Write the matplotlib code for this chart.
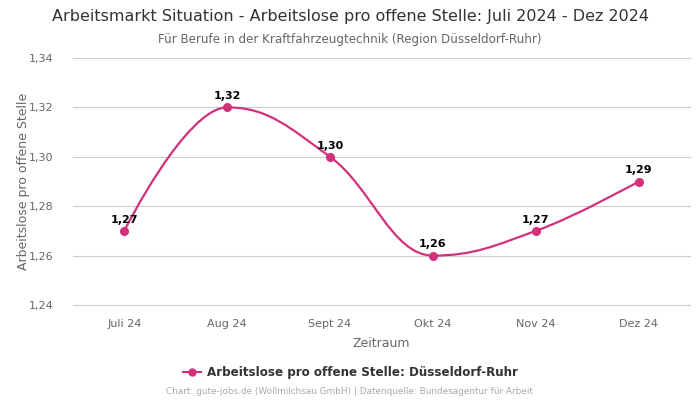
import numpy as np
import matplotlib
matplotlib.use("Agg")
import matplotlib.pyplot as plt
from matplotlib.path import Path
from matplotlib.patches import PathPatch

months = ["Juli 24", "Aug 24", "Sept 24", "Okt 24", "Nov 24", "Dez 24"]
values = [1.27, 1.32, 1.30, 1.26, 1.27, 1.29]
y_ticks = [1.24, 1.26, 1.28, 1.30, 1.32, 1.34]

COLOR = "#d3307b"
GRAY = "#666666"


def spline_path(xs, ys, smoothing=1.5):
    # Bezier path in the style of a Highcharts spline
    denom = smoothing + 1
    n = len(xs)
    verts = [(xs[0], ys[0])]
    codes = [Path.MOVETO]
    conts = []
    for i in range(n):
        if i == 0 or i == n - 1:
            conts.append(((xs[i], ys[i]), (xs[i], ys[i])))
            continue
        lx, ly = xs[i - 1], ys[i - 1]
        nx, ny = xs[i + 1], ys[i + 1]
        px, py = xs[i], ys[i]
        lcx = (smoothing * px + lx) / denom
        lcy = (smoothing * py + ly) / denom
        rcx = (smoothing * px + nx) / denom
        rcy = (smoothing * py + ny) / denom
        if rcx != lcx:
            corr = ((rcy - lcy) * (rcx - px)) / (rcx - lcx) + py - rcy
            lcy += corr
            rcy += corr
        if lcy > max(ly, py):
            lcy = max(ly, py)
            rcy = 2 * py - lcy
        elif lcy < min(ly, py):
            lcy = min(ly, py)
            rcy = 2 * py - lcy
        if rcy > max(ny, py):
            rcy = max(ny, py)
            lcy = 2 * py - rcy
        elif rcy < min(ny, py):
            rcy = min(ny, py)
            lcy = 2 * py - rcy
        conts.append(((lcx, lcy), (rcx, rcy)))
    for i in range(1, n):
        verts += [conts[i - 1][1], conts[i][0], (xs[i], ys[i])]
        codes += [Path.CURVE4] * 3
    return Path(verts, codes)


fig = plt.figure(figsize=(7, 4), dpi=100)
ax = fig.add_axes([0.104, 0.2375, 0.882, 0.6175])

x = np.arange(len(months))
ax.add_patch(PathPatch(spline_path(list(x), values), facecolor="none",
                       edgecolor=COLOR, linewidth=1.6, zorder=3))
ax.plot(x, values, "o", color=COLOR, markersize=5.5, zorder=4,
        label="Arbeitslose pro offene Stelle: Düsseldorf-Ruhr")

for xi, v in zip(x, values):
    ax.annotate(f"{v:.2f}".replace(".", ","), (xi, v), xytext=(0, 4.5),
                textcoords="offset points", ha="center", va="bottom",
                fontsize=8, fontweight="bold", color="black", zorder=5)

ax.set_xlim(-0.5, len(months) - 0.5)
ax.set_ylim(1.24, 1.34)
ax.set_yticks(y_ticks)
ax.set_yticklabels([f"{t:.2f}".replace(".", ",") for t in y_ticks])
ax.set_xticks(x)
ax.set_xticklabels(months)
ax.tick_params(axis="both", length=0, labelsize=8, colors=GRAY)
ax.tick_params(axis="x", pad=10)
ax.tick_params(axis="y", pad=14)
for t in y_ticks:
    ax.axhline(t, color="#cccccc", linewidth=0.8, zorder=0, clip_on=False)
for s in ax.spines.values():
    s.set_visible(False)

ax.set_xlabel("Zeitraum", fontsize=9, color=GRAY, labelpad=6)
ax.set_ylabel("Arbeitslose pro offene Stelle", fontsize=9, color=GRAY, labelpad=-1)

fig.text(0.5, 0.958, "Arbeitsmarkt Situation - Arbeitslose pro offene Stelle: Juli 2024 - Dez 2024",
         ha="center", va="center", fontsize=11.5, color="#333333")
fig.text(0.5, 0.902, "Für Berufe in der Kraftfahrzeugtechnik (Region Düsseldorf-Ruhr)",
         ha="center", va="center", fontsize=8.6, color=GRAY)

leg = fig.legend(loc="center", bbox_to_anchor=(0.5, 0.068), frameon=False,
                 handlelength=1.5, handletextpad=0.5,
                 prop={"size": 8.6, "weight": "bold"})
for t in leg.get_texts():
    t.set_color("#333333")
leg.legend_handles[0].set_linestyle("-")
leg.legend_handles[0].set_markersize(5)

fig.text(0.5, 0.02, "Chart: gute-jobs.de (Wollmilchsau GmbH) | Datenquelle: Bundesagentur für Arbeit",
         ha="center", va="center", fontsize=6.4, color="#aaaaaa")

fig.savefig("out.png", dpi=100)
